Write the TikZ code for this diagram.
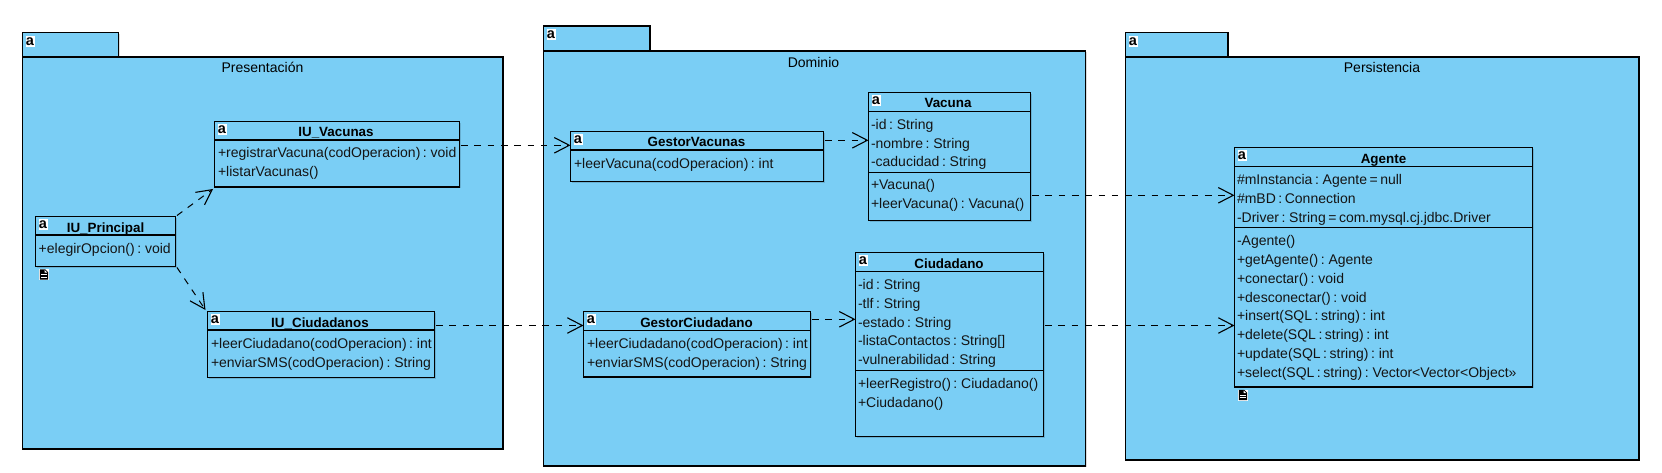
\documentclass[tikz,border=0pt]{standalone}
\usepackage{fontspec}
\setmainfont{Liberation Sans}[WordSpace=0.65]
\usetikzlibrary{arrows.meta,shadows}
\definecolor{pkgblue}{HTML}{7ACEF5}
\tikzset{
  x=1pt,y=-1pt,
  softshadow/.style={drop shadow={shadow xshift=1.3pt,shadow yshift=-1.3pt,fill=black,opacity=.14}},
  pkgbox/.style={draw=black,fill=pkgblue,line width=1.1pt,anchor=north west,inner sep=0pt,outer sep=0pt,softshadow},
  classbox/.style={draw=black,fill=pkgblue,line width=1.1pt,anchor=north west,inner sep=0pt,outer sep=0pt,softshadow},
  divider/.style={draw=black,line width=1.1pt},
  txt/.style={anchor=base west,inner sep=0pt,outer sep=0pt,font=\fontsize{14}{16}\selectfont,text=black!92},
  ttl/.style={anchor=base,inner sep=0pt,outer sep=0pt,font=\fontsize{13.4}{15}\selectfont\bfseries},
  pkgname/.style={anchor=base,inner sep=0pt,outer sep=0pt,font=\fontsize{14}{16}\selectfont},
  aicon/.style={anchor=north west,fill=white,inner sep=0pt,outer sep=0pt,minimum width=9pt,minimum height=11pt,font=\fontsize{14.5}{12}\selectfont\bfseries},
  dep/.style={draw=black,line width=1pt,dash pattern=on 6.6pt off 6.7pt,-{Straight Barb[length=15pt,width=15.5pt,line width=1.1pt]}},
}
% box(name, x1, y1, x2, y2)
\newcommand\umlbox[6]{\node[#1,minimum width={(#5-#3)*1pt},minimum height={(#6-#4)*1pt}] (#2) at (#3,#4) {};}
\newcommand\noteicon[3]{%
  \node[anchor=north west,fill=white,inner sep=0pt,outer sep=0pt,minimum width=10.5pt,minimum height=11pt] (#1) at (#2,#3) {};
  \fill[black] ([shift={(1.2,0.3)}]#1.north west) -- ++(5.3,0) -- ++(3,3) -- ++(0,7.4) -- ++(-8.3,0) -- cycle;
  \fill[white] ([shift={(6,1)}]#1.north west) -- ++(0,2.5) -- ++(2.3,0) -- cycle;
  \draw[white,line width=.8pt] ([shift={(2.2,5.8)}]#1.north west) -- ++(6.4,0) ([shift={(2.2,8.2)}]#1.north west) -- ++(6.4,0);
}
\begin{document}
\begin{tikzpicture}
\useasboundingbox (0,0) rectangle (1662,473);
% packages
\umlbox{pkgbox}{p1tab}{22.5}{32.5}{118.5}{57}
\umlbox{pkgbox}{p1}{22.5}{57}{503}{449}
\node[aicon] (p1a) at ([shift={(3,3.5)}]p1tab.north west) {a};
\node[pkgname] (p1n) at (262.5,72.7) {Presentación};

\umlbox{pkgbox}{p2tab}{543.5}{26}{650}{51}
\umlbox{pkgbox}{p2}{543.5}{51}{1085.5}{466}
\node[aicon] (p2a) at ([shift={(3,3.5)}]p2tab.north west) {a};
\node[pkgname] (p2n) at (813.5,67.3) {Dominio};

\umlbox{pkgbox}{p3tab}{1125.5}{32.5}{1228}{57}
\umlbox{pkgbox}{p3}{1125.5}{57}{1639}{460}
\node[aicon] (p3a) at ([shift={(3,3.5)}]p3tab.north west) {a};
\node[pkgname] (p3n) at (1382,72.7) {Persistencia};

% IU_Principal
\umlbox{classbox}{iup}{35.5}{216.5}{175.5}{266.5}
\draw[divider] (iup.north west |- 0,235) -- (iup.north east |- 0,235);
\node[aicon] (iupa) at ([shift={(3,2.5)}]iup.north west) {a};
\node[ttl] (iupt) at (105.5,232.3) {IU\_Principal};
\node[txt] (iup1) at (38.7,253.3) {+elegirOpcion() : void};
\noteicon{iupn}{38.7}{269}

% IU_Vacunas
\umlbox{classbox}{iuv}{214.5}{121.5}{459.5}{187}
\draw[divider] (iuv.north west |- 0,140) -- (iuv.north east |- 0,140);
\node[aicon] (iuva) at ([shift={(3,2.5)}]iuv.north west) {a};
\node[ttl] (iuvt) at (336,136.7) {IU\_Vacunas};
\node[txt] (iuv1) at (218,158) {+registrarVacuna(codOperacion) : void};
\node[txt] (iuv2) at (218,177) {+listarVacunas()};

% IU_Ciudadanos
\umlbox{classbox}{iuc}{207.5}{311.5}{434.5}{377.5}
\draw[divider] (iuc.north west |- 0,330) -- (iuc.north east |- 0,330);
\node[aicon] (iuca) at ([shift={(3,2.5)}]iuc.north west) {a};
\node[ttl] (iuct) at (320,327.3) {IU\_Ciudadanos};
\node[txt] (iuc1) at (211,348.3) {+leerCiudadano(codOperacion) : int};
\node[txt] (iuc2) at (211,367.3) {+enviarSMS(codOperacion) : String};

% GestorVacunas
\umlbox{classbox}{gv}{570.5}{131.5}{823.5}{181.5}
\draw[divider] (gv.north west |- 0,150) -- (gv.north east |- 0,150);
\node[aicon] (gva) at ([shift={(3,2.5)}]gv.north west) {a};
\node[ttl] (gvt) at (696.5,147) {GestorVacunas};
\node[txt] (gv1) at (574,168.3) {+leerVacuna(codOperacion) : int};

% GestorCiudadano
\umlbox{classbox}{gc}{583.5}{311.5}{810.5}{377}
\draw[divider] (gc.north west |- 0,330.5) -- (gc.north east |- 0,330.5);
\node[aicon] (gca) at ([shift={(3,2.5)}]gc.north west) {a};
\node[ttl] (gct) at (696.5,327) {GestorCiudadano};
\node[txt] (gc1) at (587,348.3) {+leerCiudadano(codOperacion) : int};
\node[txt] (gc2) at (587,367.3) {+enviarSMS(codOperacion) : String};

% Vacuna
\umlbox{classbox}{va}{868.5}{92.5}{1030.5}{220.5}
\draw[divider] (va.north west |- 0,111.5) -- (va.north east |- 0,111.5);
\draw[divider] (va.north west |- 0,172.5) -- (va.north east |- 0,172.5);
\node[aicon] (vaa) at ([shift={(3,2.5)}]va.north west) {a};
\node[ttl] (vat) at (948,108) {Vacuna};
\node[txt] (va1) at (871,129.3) {-id : String};
\node[txt] (va2) at (871,148.3) {-nombre : String};
\node[txt] (va3) at (871,167) {-caducidad : String};
\node[txt] (va4) at (871,190) {+Vacuna()};
\node[txt] (va5) at (871,209) {+leerVacuna() : Vacuna()};

% Ciudadano
\umlbox{classbox}{ci}{855.5}{252.5}{1043.5}{436.5}
\draw[divider] (ci.north west |- 0,271.5) -- (ci.north east |- 0,271.5);
\draw[divider] (ci.north west |- 0,370.5) -- (ci.north east |- 0,370.5);
\node[aicon] (cia) at ([shift={(3,2.5)}]ci.north west) {a};
\node[ttl] (cit) at (949,268) {Ciudadano};
\node[txt] (ci1) at (858,289.3) {-id : String};
\node[txt] (ci2) at (858,308.3) {-tlf : String};
\node[txt] (ci3) at (858,327.3) {-estado : String};
\node[txt] (ci4) at (858,345.3) {-listaContactos : String[]};
\node[txt] (ci5) at (858,364.3) {-vulnerabilidad : String};
\node[txt] (ci6) at (858,388.3) {+leerRegistro() : Ciudadano()};
\node[txt] (ci7) at (858,407.3) {+Ciudadano()};

% Agente
\umlbox{classbox}{ag}{1234.5}{147.5}{1532.5}{387}
\draw[divider] (ag.north west |- 0,166.5) -- (ag.north east |- 0,166.5);
\draw[divider] (ag.north west |- 0,227.5) -- (ag.north east |- 0,227.5);
\node[aicon] (aga) at ([shift={(3,2.5)}]ag.north west) {a};
\node[ttl] (agt) at (1383.5,163.3) {Agente};
\node[txt] (ag1) at (1237,184.3) {\#mInstancia : Agente = null};
\node[txt] (ag2) at (1237,203.3) {\#mBD : Connection};
\node[txt] (ag3) at (1237,222.3) {-Driver : String = com.mysql.cj.jdbc.Driver};
\node[txt] (ag4) at (1237,245.3) {-Agente()};
\node[txt] (ag5) at (1237,264.3) {+getAgente() : Agente};
\node[txt] (ag6) at (1237,283.3) {+conectar() : void};
\node[txt] (ag7) at (1237,302.3) {+desconectar() : void};
\node[txt] (ag8) at (1237,320.3) {+insert(SQL : string) : int};
\node[txt] (ag9) at (1237,339.3) {+delete(SQL : string) : int};
\node[txt] (ag10) at (1237,358.3) {+update(SQL : string) : int};
\node[txt] (ag11) at (1237,377.3) {+select(SQL : string) : Vector<Vector<Object>>};
\noteicon{agn}{1237.7}{389.5}

% dependencies
\draw[dep] ([shift={(1.5,-1)}]iup.north east) -- ([shift={(-1.5,2)}]iuv.south west);
\draw[dep] ([shift={(1.5,1)}]iup.south east) -- ([shift={(-2,-1.5)}]iuc.north west);
\draw[dep] ([shift={(1.5,23.8)}]iuv.north east) -- ([shift={(0,13.8)}]gv.north west);
\draw[dep] ([shift={(1.5,14)}]iuc.north east) -- ([shift={(0,14)}]gc.north west);
\draw[dep] ([shift={(1.5,8.8)}]gv.north east) -- ([shift={(0,47.8)}]va.north west);
\draw[dep] ([shift={(1.5,7.8)}]gc.north east) -- ([shift={(0,66.8)}]ci.north west);
\draw[dep] ([shift={(1.5,102.8)}]va.north east) -- ([shift={(0,47.8)}]ag.north west);
\draw[dep] ([shift={(1.5,73)}]ci.north east) -- ([shift={(0,178)}]ag.north west);
\end{tikzpicture}
\end{document}
